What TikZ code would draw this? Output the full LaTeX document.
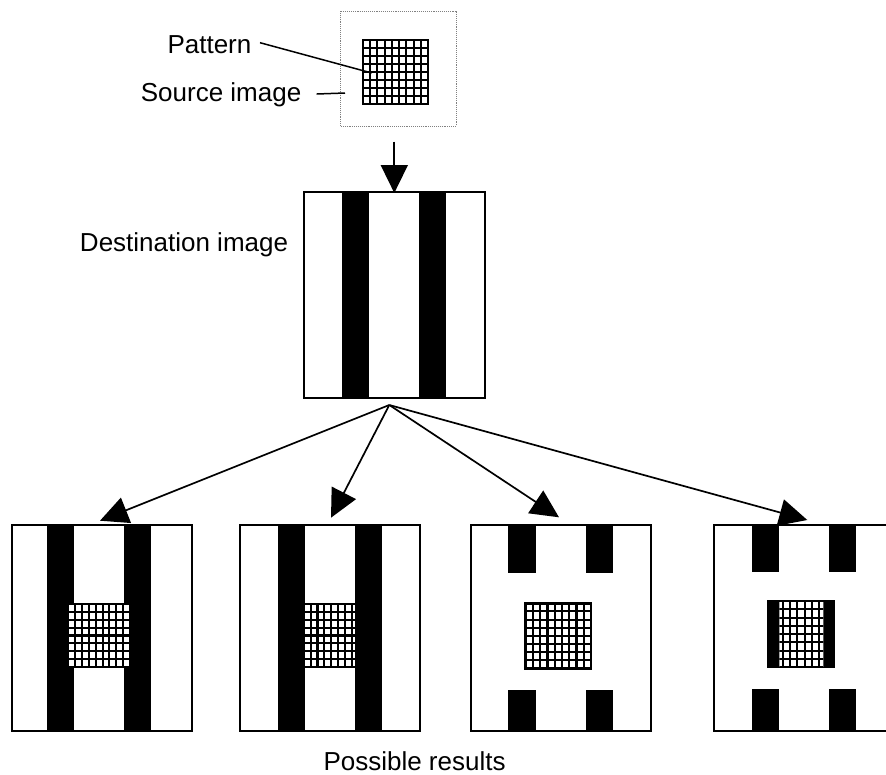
\documentclass[tikz,border=0pt]{standalone}
\usepackage{fontspec}
\setmainfont{Liberation Sans}
\usetikzlibrary{arrows.meta}
\newcommand\pgrid[4]{%
  \fill[white] (#1,#2) rectangle (#3,#4);
  \foreach \k in {0,...,9}{\draw[gridl] ({#1+\k*(#3-#1)/9},#2) -- ({#1+\k*(#3-#1)/9},#4);}
  \foreach \k in {0,...,8}{\draw[gridl] (#1,{#2+\k*(#4-#2)/8}) -- (#3,{#2+\k*(#4-#2)/8});}
}
\begin{document}
\begin{tikzpicture}[x=1pt,y=-1pt,
  boxline/.style={line width=2pt},
  conn/.style={line width=1.7pt},
  arr/.style={conn,-{Triangle[length=28pt,width=27pt]}},
  lbl/.style={inner sep=0pt,font=\fontsize{26}{30}\selectfont},
  gridl/.style={line width=2.1pt},
  pborder/.style={line width=2.5pt}]
\useasboundingbox (0,0) rectangle (886,774);
\clip (0,0) rectangle (886,774);
\fill[white] (0,0) rectangle (886,774);

% ---- source image
\draw[gray, line width=0.9pt, densely dotted] (340,11) rectangle (456,126);
\pgrid{363}{40}{428}{104}
\draw[pborder] (363,40) rectangle (428,104);
\node[lbl, anchor=base west] (plab) at (167.3,53.3) {Pattern};
\node[lbl, anchor=base west] (slab) at (140.7,101.7) {Source image};
\coordinate (pl1) at (260,42.7);
\coordinate (pl2) at (371.7,73);
\coordinate (sl1) at (316.7,94);
\coordinate (sl2) at (345,93);
\draw[line width=1.5pt] (pl1) -- (pl2);
\draw[line width=1.5pt] (sl1) -- (sl2);

% ---- destination image
\fill (342,192) rectangle (369.3,398);
\fill (419,192) rectangle (446,398);
\draw[boxline] (303.5,192) rectangle (484.5,398);
\node[lbl, anchor=base east] (dlab) at (288.3,251.7) {Destination image};

\coordinate (srcout) at (394.3,141.7);
\coordinate (dtop) at (394.3,193);
\draw[arr] (srcout) -- (dtop);

% ---- result 1
\fill (47.3,525) rectangle (74,731);
\fill (124,525) rectangle (151,731);
\pgrid{68.3}{604}{130}{667}
\draw[boxline] (11.7,525) rectangle (191.7,731);

% ---- result 2
\pgrid{297}{604}{358.5}{667}
\fill (278.3,525) rectangle (305,731);
\fill (355,525) rectangle (382.3,731);
\draw[boxline] (240,525) rectangle (420,731);

% ---- result 3
\fill (508.3,525) rectangle (536,573.3);
\fill (585.7,525) rectangle (612.7,573.3);
\fill (508.3,690) rectangle (536,731);
\fill (585.7,690) rectangle (612.7,731);
\pgrid{525.7}{603.3}{591}{668.3}
\draw[pborder] (525.7,603.3) rectangle (591,668.3);
\draw[boxline] (470.7,525) rectangle (650.7,731);

% ---- result 4
\fill (752,525) rectangle (779.3,572.3);
\fill (829,525) rectangle (856,572.3);
\fill (752,689) rectangle (779.3,731);
\fill (829,689) rectangle (856,731);
\fill (768,601) rectangle (834,667.3);
\begin{scope}
  \clip (779.3,601) rectangle (823.3,667.3);
  \pgrid{768}{601}{834}{667.3}
\end{scope}
\draw[line width=1.5pt] (768,601) rectangle (834,667.3);
\draw[boxline] (714,525) rectangle (894,731);

% ---- arrows to results
\coordinate (apex) at (389.3,405);
\coordinate (t1) at (100,520.7);
\coordinate (t2) at (331,517.7);
\coordinate (t3) at (559,517.3);
\coordinate (t4) at (807.3,520);
\draw[arr] (apex) -- (t1);
\draw[arr] (apex) -- (t2);
\draw[arr] (apex) -- (t3);
\draw[arr] (apex) -- (t4);

\node[lbl, anchor=base west] (rlab) at (323.3,770) {Possible results};
\end{tikzpicture}
\end{document}
